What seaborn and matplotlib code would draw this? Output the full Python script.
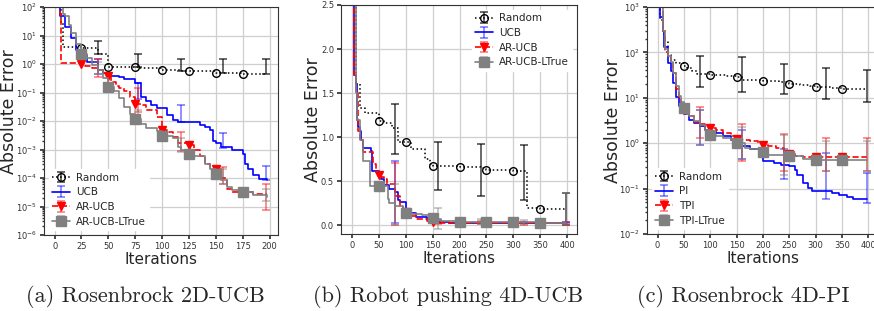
import numpy as np
import matplotlib
matplotlib.use('Agg')
import matplotlib.pyplot as plt
import seaborn as sns
from matplotlib.lines import Line2D
from matplotlib.container import ErrorbarContainer
from matplotlib.ticker import LogLocator, NullFormatter

# ---------------- (a) Rosenbrock 2D-UCB  (log y)
a_rand_x = [0, 6, 8, 25, 40, 50, 75, 79, 100, 118, 125, 150, 157, 175, 198]
a_rand_y = [100, 30, 4.0, 3.5, 2.3, 0.8, 0.8, 0.75, 0.6, 0.55, 0.55, 0.5, 0.48, 0.45, 0.45]
a_rand_err_lo = [2.2, 0.8, 0.55, 0.48, 0.45]
a_rand_err_hi = [6.5, 2.2, 1.5, 1.45, 1.45]

a_ucb_x = [0, 5, 10, 15, 20, 25, 30, 40, 45, 50, 60, 65, 75, 80, 85, 90, 95, 105, 110, 115,
           135, 140, 145, 147, 150, 155, 165, 175, 177, 180, 185, 190, 198]
a_ucb_y = [100, 50, 20, 8, 3.0, 2.0, 1.2, 0.63, 0.5, 0.37, 0.35, 0.3, 0.22, 0.07, 0.05, 0.035,
           0.029, 0.016, 0.011, 0.009, 0.0075, 0.0063, 0.005, 0.002, 0.0017, 0.0012, 0.001,
           0.0007, 0.0003, 0.0002, 0.00013, 9e-5, 8.5e-5]
a_ucb_err_lo = [0.45, 0.06, 0.009, 0.0011, 8.5e-5]
a_ucb_err_hi = [1.5, 0.22, 0.035, 0.0037, 0.00027]

a_ar_x = [0, 5, 6, 25, 28, 35, 40, 45, 50, 52, 57, 60, 65, 70, 75, 80, 85, 95, 100, 105, 110,
          115, 125, 130, 135, 140, 145, 150, 155, 160, 165, 185, 198]
a_ar_y = [100, 58, 1.05, 1.0, 0.83, 0.7, 0.6, 0.5, 0.39, 0.23, 0.17, 0.14, 0.11, 0.07, 0.04,
          0.035, 0.024, 0.014, 0.005, 0.004, 0.0028, 0.0017, 0.0014, 0.001, 0.0006, 0.0003,
          0.00025, 0.0002, 0.0001, 4e-5, 3.3e-5, 2.8e-5, 2.8e-5]
a_ar_err_lo = [0.35, 0.02, 0.0009, 6e-5, 7.5e-6]
a_ar_err_hi = [1.5, 0.14, 0.004, 0.00025, 6e-5]

a_lt_x = [0, 8, 10, 13, 15, 20, 25, 30, 35, 40, 45, 50, 55, 60, 65, 70, 75, 80, 85, 95, 100,
          110, 115, 118, 125, 130, 140, 145, 150, 155, 160, 165, 175, 185, 198]
a_lt_y = [100, 58, 50, 23, 12, 5, 2.3, 1.6, 0.95, 0.6, 0.32, 0.15, 0.11, 0.065, 0.032, 0.018,
          0.012, 0.008, 0.0057, 0.0044, 0.003, 0.0026, 0.0012, 0.001, 0.0007, 0.0006, 0.0003,
          0.0002, 0.00014, 8.7e-5, 5e-5, 3.8e-5, 3.2e-5, 2.5e-5, 2.2e-5]
a_lt_err_lo = [0.45, 0.008, 0.0008, 6e-5, 1.5e-5]
a_lt_err_hi = [1.2, 0.025, 0.0025, 0.0002, 4e-5]

a_err_x = [40, 78, 118, 157, 197]
a_marks = [25, 50, 75, 100, 125, 150, 175]

# ---------------- (b) Robot pushing 4D-UCB  (linear y)
b_rand_x = [0, 7, 15, 25, 50, 60, 75, 85, 100, 110, 135, 145, 150, 200, 240, 250, 300, 325, 350, 398]
b_rand_y = [3.0, 1.6, 1.33, 1.27, 1.18, 1.16, 1.1, 0.95, 0.95, 0.86, 0.75, 0.69, 0.67, 0.66,
            0.65, 0.63, 0.61, 0.19, 0.18, 0.18]
b_rand_err_lo = [0.81, 0.4, 0.33, 0.29, 0.0]
b_rand_err_hi = [1.38, 0.95, 0.92, 0.91, 0.36]

b_ucb_x = [0, 5, 7, 10, 12, 15, 18, 20, 35, 38, 50, 55, 60, 70, 80, 85, 90, 100, 110, 120,
           140, 160, 180, 398]
b_ucb_y = [3.0, 1.7, 1.6, 1.2, 1.12, 1.07, 0.97, 0.88, 0.84, 0.62, 0.58, 0.52, 0.46, 0.41,
           0.38, 0.29, 0.26, 0.18, 0.14, 0.09, 0.07, 0.04, 0.03, 0.03]
b_ucb_err_lo = [0.03, 0.02, 0.02, 0.02, 0.02]
b_ucb_err_hi = [0.73, 0.06, 0.04, 0.04, 0.04]

b_ar_x = [0, 5, 7, 12, 15, 20, 40, 45, 50, 55, 60, 65, 80, 82, 90, 95, 100, 110, 120, 140,
          150, 160, 200, 250, 300, 350, 398]
b_ar_y = [3.0, 1.7, 1.5, 1.07, 0.98, 0.83, 0.7, 0.6, 0.57, 0.55, 0.52, 0.47, 0.38, 0.33, 0.22,
          0.18, 0.15, 0.11, 0.07, 0.05, 0.04, 0.03, 0.025, 0.022, 0.02, 0.02, 0.02]
b_ar_err_lo = [0.0, 0.01, 0.01, 0.0, 0.0]
b_ar_err_hi = [0.71, 0.05, 0.05, 0.04, 0.04]

b_lt_x = [0, 7, 10, 15, 20, 33, 50, 67, 70, 80, 95, 100, 110, 130, 150, 155, 165, 200, 250,
          300, 350, 398]
b_lt_y = [3.0, 1.5, 1.2, 0.97, 0.73, 0.45, 0.44, 0.3, 0.25, 0.22, 0.15, 0.14, 0.13, 0.12, 0.08,
          0.07, 0.05, 0.04, 0.04, 0.04, 0.03, 0.03]
b_lt_err_lo = [0.0, -0.04, 0.01, 0.01, 0.0]
b_lt_err_hi = [0.47, 0.2, 0.07, 0.06, 0.36]

b_err_x = [80, 160, 240, 320, 398]
b_marks = [50, 100, 150, 200, 250, 300, 350]

# ---------------- (c) Rosenbrock 4D-PI  (log y)
c_rand_x = [0, 5, 10, 15, 20, 25, 35, 50, 55, 65, 75, 100, 110, 130, 150, 160, 200, 230, 250,
            270, 290, 300, 330, 350, 398]
c_rand_y = [1000, 510, 260, 170, 88, 68, 57, 50, 45, 38, 34, 32, 31, 30, 28, 25, 24, 22, 20,
            19, 18, 17, 16.5, 15.7, 15.7]
c_rand_err_lo = [17.5, 13.5, 12, 9.5, 8]
c_rand_err_hi = [85, 80, 55, 45, 40]

c_pi_x = [0, 5, 10, 13, 20, 25, 30, 35, 40, 45, 50, 60, 70, 80, 90, 100, 110, 125, 140, 150,
          160, 175, 195, 200, 220, 235, 250, 260, 265, 275, 285, 292, 330, 345, 360, 370, 398]
c_pi_y = [1000, 600, 300, 130, 57, 38, 21, 10.5, 6.5, 4.6, 4.3, 3.3, 2.8, 2.36, 2.0, 1.83,
          1.68, 1.42, 1.2, 1.0, 0.86, 0.73, 0.61, 0.4, 0.37, 0.33, 0.31, 0.26, 0.2, 0.135,
          0.105, 0.088, 0.082, 0.071, 0.065, 0.06, 0.058]
c_pi_err_lo = [0.9, 0.45, 0.16, 0.06, 0.047]
c_pi_err_hi = [5.5, 2.0, 0.75, 0.6, 0.22]

c_tpi_x = [0, 10, 15, 20, 25, 30, 35, 40, 45, 50, 60, 70, 80, 90, 100, 110, 125, 140, 150,
           160, 175, 190, 200, 210, 225, 240, 250, 260, 275, 300, 350, 398]
c_tpi_y = [1000, 300, 100, 80, 57, 35, 16, 9, 6.5, 5.5, 3.9, 3.0, 2.65, 2.4, 2.2, 2.0, 1.7,
           1.42, 1.25, 1.15, 1.1, 1.02, 0.9, 0.87, 0.79, 0.67, 0.57, 0.53, 0.5, 0.5, 0.5, 0.5]
c_tpi_err_lo = [1.3, 0.4, 0.25, 0.25, 0.25]
c_tpi_err_hi = [6.2, 2.6, 1.6, 1.3, 1.3]

c_lt_x = [0, 10, 15, 20, 25, 30, 35, 40, 45, 50, 55, 60, 70, 80, 90, 100, 110, 125, 140, 150,
          165, 175, 195, 200, 210, 250, 275, 300, 350, 398]
c_lt_y = [1000, 300, 120, 85, 60, 35, 18, 11, 8, 6, 4.5, 4.0, 3.1, 2.5, 2.0, 1.55, 1.45, 1.3,
          1.15, 1.0, 0.8, 0.75, 0.7, 0.63, 0.55, 0.53, 0.44, 0.43, 0.43, 0.43]
c_lt_err_lo = [0.9, 0.45, 0.2, 0.25, 0.25]
c_lt_err_hi = [5.5, 2.3, 1.5, 1.1, 1.1]

c_err_x = [80, 160, 240, 320, 398]
c_marks = [50, 100, 150, 200, 250, 300, 350]

captions = ['(a) Rosenbrock 2D-UCB', '(b) Robot pushing 4D-UCB', '(c) Rosenbrock 4D-PI']

# ---------------- styles
sns.set_theme(style='whitegrid', rc={
    'axes.edgecolor': '0.2', 'axes.linewidth': 0.8, 'grid.color': '#cfcfcf', 'grid.linewidth': 0.9,
    'xtick.bottom': True, 'ytick.left': True, 'xtick.major.size': 3, 'ytick.major.size': 3,
    'ytick.minor.size': 1.5, 'xtick.color': '0.2', 'ytick.color': '0.2',
    'xtick.labelsize': 6, 'ytick.labelsize': 6})
plt.rcParams['font.family'] = ['DejaVu Sans']

st_rand = dict(color='black', ls=':', lw=1.1, marker='o', mfc='none', mec='black', ms=5.5)
st_base = dict(color='#0000ff', ls='-', lw=1.2)
st_ar = dict(color='#ff0000', ls='--', lw=1.2, marker='v', ms=6)
st_lt = dict(color='#808080', ls='-', lw=1.2, marker='s', ms=6.5)
ecol = {'rand': (0, 0, 0, 0.75), 'base': (0, 0, 1, 0.55), 'ar': (1, 0, 0, 0.55), 'lt': (0.5, 0.5, 0.5, 0.55)}


def draw(ax, name, style, ec, x, y, marks, ex, lo, hi):
    x = np.asarray(x)
    every = list(np.flatnonzero(np.isin(x, marks)))
    ax.plot(x, y, drawstyle='steps-post', markevery=every, **style)
    lo, hi = np.asarray(lo), np.asarray(hi)
    eb = ax.errorbar(ex, (lo + hi) / 2, yerr=(hi - lo) / 2, fmt='none', ecolor=ec,
                     elinewidth=1.1, capsize=3, capthick=1.1)
    proxy = Line2D([], [], **style)
    return ErrorbarContainer((proxy, eb.lines[1], eb.lines[2]), has_yerr=True, label=name)


fig = plt.figure(figsize=(8.74, 3.11), dpi=100)
W, H = 874, 311
ax_a = fig.add_axes([44 / W, 1 - 235 / H, 234 / W, 228 / H])
ax_b = fig.add_axes([341 / W, 1 - 234 / H, 236 / W, 229 / H])
ax_c = fig.add_axes([647 / W, 1 - 234 / H, 232 / W, 227 / H])

ha = [draw(ax_a, 'Random', st_rand, ecol['rand'], a_rand_x, a_rand_y, a_marks, a_err_x, a_rand_err_lo, a_rand_err_hi),
      draw(ax_a, 'UCB', st_base, ecol['base'], a_ucb_x, a_ucb_y, a_marks, a_err_x, a_ucb_err_lo, a_ucb_err_hi),
      draw(ax_a, 'AR-UCB', st_ar, ecol['ar'], a_ar_x, a_ar_y, a_marks[:-1], a_err_x, a_ar_err_lo, a_ar_err_hi),
      draw(ax_a, 'AR-UCB-LTrue', st_lt, ecol['lt'], a_lt_x, a_lt_y, a_marks, a_err_x, a_lt_err_lo, a_lt_err_hi)]

hb = [draw(ax_b, 'Random', st_rand, ecol['rand'], b_rand_x, b_rand_y, b_marks, b_err_x, b_rand_err_lo, b_rand_err_hi),
      draw(ax_b, 'UCB', st_base, ecol['base'], b_ucb_x, b_ucb_y, b_marks, b_err_x, b_ucb_err_lo, b_ucb_err_hi),
      draw(ax_b, 'AR-UCB', st_ar, ecol['ar'], b_ar_x, b_ar_y, b_marks, b_err_x, b_ar_err_lo, b_ar_err_hi),
      draw(ax_b, 'AR-UCB-LTrue', st_lt, ecol['lt'], b_lt_x, b_lt_y, b_marks, b_err_x, b_lt_err_lo, b_lt_err_hi)]

hc = [draw(ax_c, 'Random', st_rand, ecol['rand'], c_rand_x, c_rand_y, c_marks, c_err_x, c_rand_err_lo, c_rand_err_hi),
      draw(ax_c, 'PI', st_base, ecol['base'], c_pi_x, c_pi_y, c_marks, c_err_x, c_pi_err_lo, c_pi_err_hi),
      draw(ax_c, 'TPI', st_ar, ecol['ar'], c_tpi_x, c_tpi_y, c_marks, c_err_x, c_tpi_err_lo, c_tpi_err_hi),
      draw(ax_c, 'TPI-LTrue', st_lt, ecol['lt'], c_lt_x, c_lt_y, c_marks, c_err_x, c_lt_err_lo, c_lt_err_hi)]

for ax in (ax_a, ax_c):
    ax.set_yscale('log')
    ax.yaxis.set_major_locator(LogLocator(base=10, numticks=20))
    ax.yaxis.set_minor_locator(LogLocator(base=10, subs=np.arange(2, 10), numticks=20))
    ax.yaxis.set_minor_formatter(NullFormatter())
ax_a.set_ylim(1e-6, 1e2)
ax_a.set_xlim(-9.9, 207.9)
ax_a.set_xticks(np.arange(0, 201, 25))
ax_b.set_ylim(-0.1, 2.5)
ax_b.set_xlim(-19.9, 417.9)
ax_b.set_yticks([0.0, 0.5, 1.0, 1.5, 2.0, 2.5])
ax_b.set_xticks(np.arange(0, 401, 50))
ax_c.set_ylim(1e-2, 1e3)
ax_c.set_xlim(-20, 420)
ax_c.set_xticks(np.arange(0, 401, 50))

legend_kw = dict(fontsize=7.5, frameon=True, framealpha=1, edgecolor='white',
                 handlelength=1.7, handletextpad=0.6, borderpad=0.3, labelspacing=0.45)
ax_a.legend(handles=ha, loc='lower left', **legend_kw)
ax_b.legend(handles=hb, loc='upper right', **legend_kw)
ax_c.legend(handles=hc, loc='lower left', **legend_kw)

# ylabel right edge offsets (px left of each axes) and vertical centres
for ax, off, wpx, yc in ((ax_a, 26, 234, 0.54), (ax_b, 19, 236, 0.5), (ax_c, 25, 232, 0.5)):
    ax.set_xlabel('Iterations', fontsize=11, labelpad=1)
    ax.set_ylabel('Absolute Error', fontsize=12.5)
    ax.yaxis.set_label_coords(-off / wpx, yc)
    ax.tick_params(axis='both', pad=2)

for cx, txt in zip([145, 448, 743], captions):
    fig.text(cx / W, 1 - 296 / H, txt, ha='center', va='center', fontsize=16, family='cmr10')

fig.savefig('out.png', dpi=100)
